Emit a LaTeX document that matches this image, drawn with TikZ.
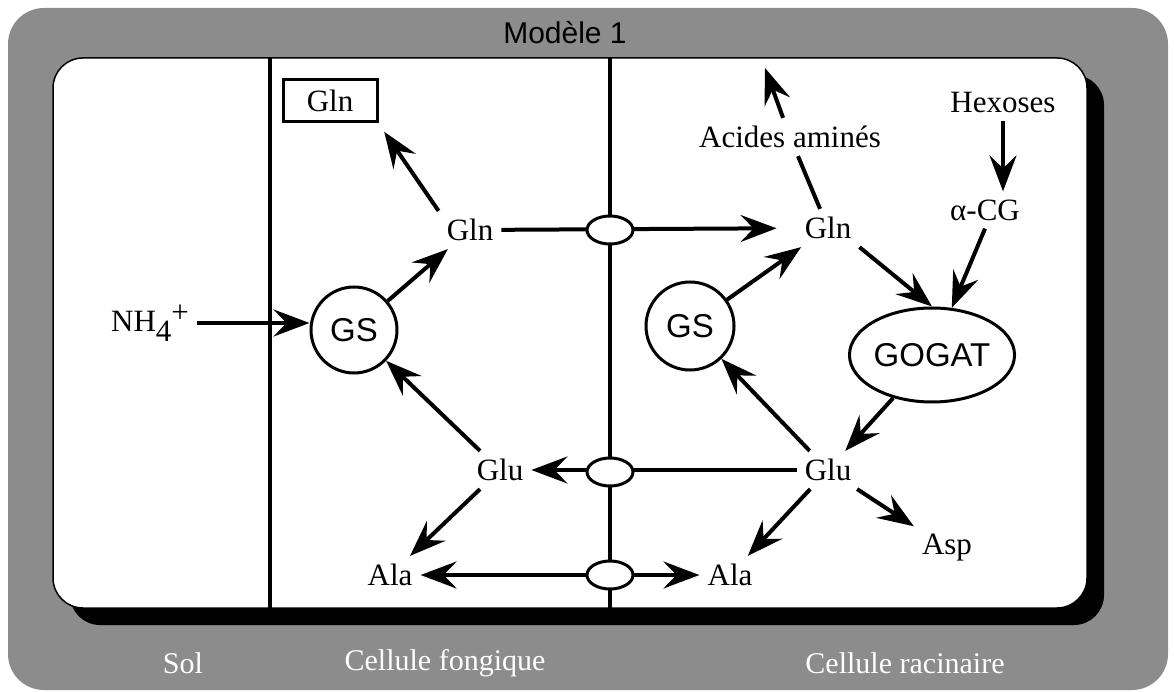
\documentclass[tikz,border=0pt]{standalone}
\usepackage{fontspec}
\setmainfont{Liberation Serif}
\setsansfont{Liberation Sans}
\usetikzlibrary{arrows.meta,positioning,shapes.geometric}

\begin{document}
\begin{tikzpicture}[x=1pt,y=-1pt,
    font=\fontsize{31}{36}\selectfont,
    >={Stealth[length=36pt,width=27pt,inset=13pt]},
    mol/.style={inner sep=8pt},
    enz/.style={draw,line width=3pt,inner sep=0pt,font=\sffamily\fontsize{33}{38}\selectfont},
    canal/.style={draw,ellipse,fill=white,line width=3pt,minimum width=46pt,minimum height=28pt,inner sep=0pt},
    fl/.style={line width=4pt,->},
    trait/.style={line width=4pt},
    zone/.style={text=white,font=\fontsize{30}{34}\selectfont}]
\useasboundingbox (0,0) rectangle (1174,692);

% cadre
\fill[black!45,rounded corners=36pt] (8,8) rectangle (1168,690);
\fill[black,rounded corners=30pt] (70,75) rectangle (1104,625);
\filldraw[fill=white,draw=black,line width=1.5pt,rounded corners=30pt] (53,58) rectangle (1087,608);
\node[font=\sffamily\fontsize{30}{34}\selectfont] (titre) at (565,33) {Modèle 1};
\node[zone] (sol) at (183,663) {Sol};
\node[zone] (fongique) at (445,663) {Cellule fongique};
\node[zone] (racinaire) at (905,663) {Cellule racinaire};

% membranes
\draw[line width=4pt] (270,58) -- (270,608);
\draw[line width=4pt] (610,58) -- (610,608);

% cellule fongique
\node[mol] (nh4) at (150,323) {NH\raisebox{-10pt}{4}\raisebox{9pt}{+}};
\node[draw,line width=3pt,minimum width=94pt,minimum height=42pt] (glnbox) at (330,101) {Gln};
\node[enz,circle,minimum size=86pt] (gsF) at (354,330) {GS};
\node[mol] (glnF) at (470,230) {Gln};
\node[mol] (gluF) at (500,470) {Glu};
\node[mol] (alaF) at (390,575) {Ala};

% cellule racinaire
\node[mol] (glnR) at (828,228) {Gln};
\node[mol] (acides) at (790,137) {Acides aminés};
\coordinate (aaHaut) at (765,68);
\node[mol] (hexoses) at (1003,103) {Hexoses};
\node[mol] (acg) at (985,210) {α-CG};
\node[enz,circle,minimum size=88pt] (gsR) at (690,326) {GS};
\node[enz,ellipse,minimum width=146pt,minimum height=94pt] (gogat) at (932,355) {GOGAT};
\node[mol] (gluR) at (828,470) {Glu};
\node[mol] (alaR) at (730,575) {Ala};
\node[mol] (asp) at (947,548) {Asp};

\draw[fl] (nh4.east) -- (nh4.east -| gsF.west);
\draw[fl] (gsF) -- (glnF);
\draw[fl,shorten >=10pt] (glnF.north west) -- (glnbox.south east);
\draw[fl] (gluF) -- (gsF);
\draw[fl] (gluF) -- (alaF);
\draw[fl,shorten >=20pt] (glnF) -- (glnR);
\draw[fl] (gluR) -- (gluF);
\draw[trait,<->] (alaF) -- (alaR);

\draw[trait] (glnR) -- (acides);
\draw[fl] (acides) -- (aaHaut);
\draw[fl] (hexoses.south) -- (hexoses.south |- acg.north);
\draw[fl] (acg.south) -- (gogat);
\draw[fl] (glnR.south east) -- (gogat.north);
\draw[fl] (gsR) -- (glnR);
\draw[fl] (gluR) -- (gsR);
\draw[fl] (gogat) -- (gluR);
\draw[fl] (gluR) -- (alaR);
\draw[fl] (gluR) -- (asp);

% transporteurs
\node[canal] (tGln) at (610,230) {};
\node[canal] (tGlu) at (610,472) {};
\node[canal] (tAla) at (610,575) {};
\end{tikzpicture}
\end{document}
